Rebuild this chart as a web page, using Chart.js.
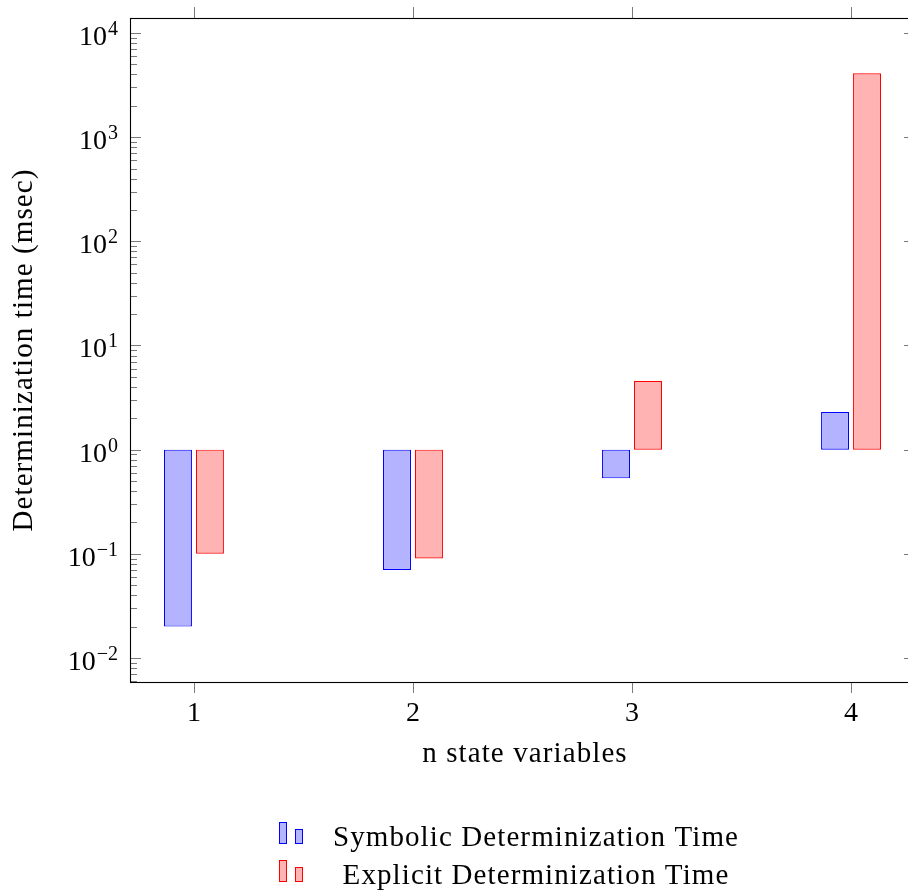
<!DOCTYPE html>
<html><head><meta charset="utf-8">
<script src="https://cdn.jsdelivr.net/npm/chart.js@4.4.0/dist/chart.umd.min.js"></script>
<style>
html,body{margin:0;padding:0;overflow:hidden;background:#fff}
#wrap{width:908px;height:893px;overflow:hidden;position:relative}
canvas{position:absolute;left:0;top:0}
</style>
</head><body><div id="wrap"><canvas id="c" width="930" height="893"></canvas></div>
<script>
// ---- data ----
const categories = [1, 2, 3, 4];
const xTickLabels = ['1', '2', '3', '4'];
const symbolicTimes = [0.02, 0.07, 0.53, 2.3];
const explicitTimes = [0.1, 0.09, 4.55, 4100];
const barBase = 1;
const yTickExponents = [-2, -1, 0, 1, 2, 3, 4];
const seriesNames = ['Symbolic Determinization Time', 'Explicit Determinization Time'];
const xTitle = 'n state variables';
const yTitle = 'Determinization time (msec)';

// pick an installed serif face
function pickFont(cands){
  const c = document.createElement('canvas').getContext('2d');
  const s = 'Determinization time 0123456789 WMmwil';
  c.font = '40px monospace'; const m1 = c.measureText(s).width;
  c.font = '40px sans-serif'; const m2 = c.measureText(s).width;
  for (const f of cands){
    c.font = '40px "' + f + '", monospace'; const a = c.measureText(s).width;
    c.font = '40px "' + f + '", sans-serif'; const b = c.measureText(s).width;
    if (a !== m1 || b !== m2) { if (a === b) return '"' + f + '"'; }
  }
  return 'serif';
}
const SERIF = pickFont(['Liberation Serif', 'DejaVu Serif', 'Noto Serif', 'Times New Roman', 'Tinos', 'FreeSerif']);
const fills = ['#b3b3ff', '#ffb3b3'];
const strokes = ['#0000ff', '#ff0000'];

function setSpacing(ctx, v){ if ('letterSpacing' in ctx) ctx.letterSpacing = v; }

const pgfAxes = {
  id: 'pgfAxes',
  afterDraw(chart){
    const {ctx, chartArea:a, scales:{x, y}} = chart;
    ctx.save();
    const line = (x1,y1,x2,y2)=>{ctx.beginPath();ctx.moveTo(x1,y1);ctx.lineTo(x2,y2);ctx.stroke();};
    // y ticks (major + minor), both sides, inward
    ctx.strokeStyle = '#7a7a7a'; ctx.lineWidth = 1;
    for (let e = -3; e <= 4; e++){
      for (let m = 1; m <= 9; m++){
        const v = m * Math.pow(10, e);
        if (v < y.min || v > y.max) continue;
        const py = Math.round(y.getPixelForValue(v)) + 0.5;
        const len = m === 1 ? 11 : 7;
        line(a.left, py, a.left + len, py);
        line(a.right, py, a.right - len, py);
      }
    }
    // x ticks, outward top and bottom
    categories.forEach(c => {
      const px = Math.round(x.getPixelForValue(c)) + 0.5;
      line(px, a.top, px, a.top - 11);
      line(px, a.bottom, px, a.bottom + 11);
    });
    // axis box
    ctx.strokeStyle = '#000'; ctx.lineWidth = 1.1;
    ctx.strokeRect(Math.round(a.left) + 0.5, Math.round(a.top) + 0.5,
                   Math.round(a.right - a.left), Math.round(a.bottom - a.top));

    ctx.fillStyle = '#000';
    // y tick labels 10^e
    yTickExponents.forEach(e => {
      const py = y.getPixelForValue(Math.pow(10, e));
      const expStr = e < 0 ? '\u2212' + (-e) : String(e);
      ctx.font = '28px ' + SERIF;
      const wb = ctx.measureText('10').width;
      ctx.font = '20px ' + SERIF;
      const we = ctx.measureText(expStr).width;
      const right = 118;
      ctx.textAlign = 'left'; ctx.textBaseline = 'alphabetic';
      ctx.font = '28px ' + SERIF;
      ctx.fillText('10', right - wb - we - 1, py + 12);
      ctx.font = '20px ' + SERIF;
      ctx.fillText(expStr, right - we, py + 2);
    });
    // x tick labels
    ctx.font = '28px ' + SERIF; ctx.textAlign = 'center';
    categories.forEach((c, i) => {
      ctx.fillText(xTickLabels[i], x.getPixelForValue(c), 721);
    });
    // axis titles
    ctx.font = '29px ' + SERIF;
    setSpacing(ctx, '1.1px');
    ctx.fillText(xTitle, 525, 762);
    ctx.save();
    ctx.translate(32, (a.top + a.bottom) / 2);
    ctx.rotate(-Math.PI / 2);
    ctx.fillText(yTitle, 0, 0);
    ctx.restore();
    // legend
    seriesNames.forEach((name, i) => {
      const dy = i * 38;
      ctx.fillStyle = fills[i]; ctx.strokeStyle = strokes[i]; ctx.lineWidth = 1;
      ctx.fillRect(279, 822 + dy, 8, 22); ctx.strokeRect(279.5, 822.5 + dy, 7, 21);
      ctx.fillRect(295, 829 + dy, 8, 15); ctx.strokeRect(295.5, 829.5 + dy, 7, 14);
      ctx.fillStyle = '#000';
      ctx.textAlign = 'center';
      ctx.fillText(name, 536, 846 + dy);
    });
    setSpacing(ctx, '0px');
    ctx.restore();
  }
};

const mk = (arr) => categories.map((c, i) => ({x: c, y: [barBase, arr[i]]}));

new Chart(document.getElementById('c').getContext('2d'), {
  type: 'bar',
  data: {
    datasets: [
      { label: seriesNames[0], data: mk(symbolicTimes), backgroundColor: fills[0], borderColor: strokes[0],
        borderWidth: 1.2, borderSkipped: false, categoryPercentage: 0.292, barPercentage: 0.875 },
      { label: seriesNames[1], data: mk(explicitTimes), backgroundColor: fills[1], borderColor: strokes[1],
        borderWidth: 1.2, borderSkipped: false, categoryPercentage: 0.292, barPercentage: 0.875 }
    ]
  },
  options: {
    responsive: false, animation: false, devicePixelRatio: 1,
    layout: { padding: { left: 130, right: 15, top: 18, bottom: 211 } },
    scales: {
      x: { type: 'linear', display: false, offset: false, min: 0.708, max: 4.292,
           ticks: { stepSize: 1, includeBounds: false } },
      y: { type: 'logarithmic', display: false, min: Math.pow(10, -2.231), max: Math.pow(10, 4.144) }
    },
    plugins: { legend: { display: false }, tooltip: { enabled: false } }
  },
  plugins: [pgfAxes]
});
</script>
</body></html>
